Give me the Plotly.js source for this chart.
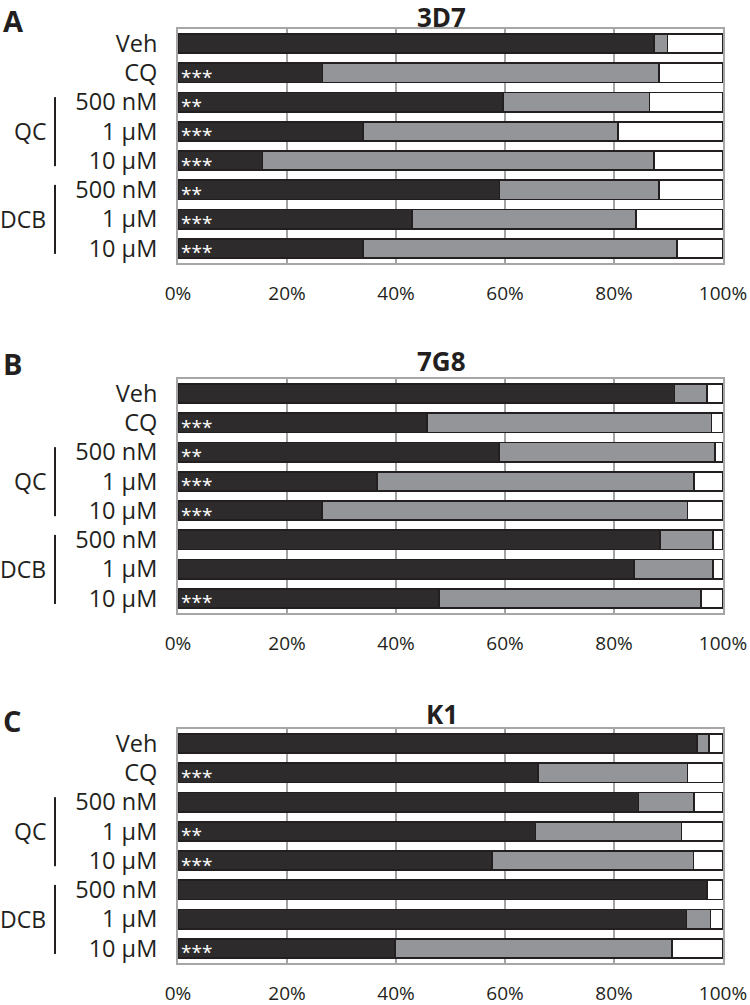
<!DOCTYPE html>
<html>
<head>
<meta charset="utf-8">
<script src="https://cdn.plot.ly/plotly-3.0.1.min.js"></script>
<style>html,body{margin:0;padding:0;background:#fff;}</style>
</head>
<body>
<div id="chart" style="width:750px;height:1005px;"></div>
<script>
// ---- data ----
const categories = ['Veh', 'CQ', '500 nM', '1 µM', '10 µM', '500 nM', '1 µM', '10 µM'];
const groups = ['QC', 'DCB'];
const panelTitles = ['3D7', '7G8', 'K1'];
const panelLetters = ['A', 'B', 'C'];
const xTicks = [0, 20, 40, 60, 80, 100];

// percentage in each segment (dark, gray); white = remainder to 100%
const dark3D7 = [87.4, 26.5, 59.6, 34.0, 15.5, 59.0, 42.9, 34.0];
const gray3D7 = [2.4, 61.8, 26.9, 46.8, 71.9, 29.3, 41.1, 57.6];
const dark7G8 = [91.1, 45.7, 58.9, 36.5, 26.4, 88.4, 83.6, 47.9];
const gray7G8 = [6.0, 52.2, 39.6, 58.2, 67.1, 9.7, 14.6, 48.0];
const darkK1 = [95.2, 66.0, 84.5, 65.6, 57.6, 97.0, 93.3, 39.8];
const grayK1 = [2.3, 27.5, 10.2, 26.8, 37.0, 0.0, 4.4, 50.8];

const sig3D7 = ['', '***', '**', '***', '***', '**', '***', '***'];
const sig7G8 = ['', '***', '**', '***', '***', '', '', '***'];
const sigK1 = ['', '***', '', '**', '***', '', '', '***'];

// ---- build ----
const rows = categories.map((_, i) => i);
const panels = [
  {dark: dark3D7, gray: gray3D7, sig: sig3D7},
  {dark: dark7G8, gray: gray7G8, sig: sig7G8},
  {dark: darkK1, gray: grayK1, sig: sigK1}
];
const COL_DARK = '#2d2b2c', COL_GRAY = '#939598', COL_LINE = '#231f20';
const FONT = 'Open Sans, sans-serif';
const domains = [[0.7495, 1], [0.3747, 0.6253], [0, 0.2505]];
const titleY = [1.052, 1.077, 1.064];
const letterY = [1.036, 1.064, 1.038];

const traces = [];
const layout = {
  width: 750, height: 1005,
  margin: {l: 178, r: 27, t: 29, b: 42},
  paper_bgcolor: '#ffffff', plot_bgcolor: '#ffffff',
  barmode: 'stack', bargap: 0.34, showlegend: false,
  font: {family: FONT, color: COL_LINE},
  annotations: [], shapes: []
};

panels.forEach((p, k) => {
  const sfx = k === 0 ? '' : String(k + 1);
  const xa = 'x' + sfx, ya = 'y' + sfx;
  const white = p.dark.map((d, i) => Math.max(0, 100 - d - p.gray[i]));
  const segs = [[p.dark, COL_DARK], [p.gray, COL_GRAY], [white, '#ffffff']];
  segs.forEach(([vals, col]) => {
    traces.push({
      type: 'bar', orientation: 'h', x: vals, y: rows,
      xaxis: xa, yaxis: ya,
      marker: {color: col, line: {color: COL_LINE, width: 1.8}},
      hoverinfo: 'skip'
    });
  });
  // significance stars, anchored at the bar base
  p.sig.forEach((s, i) => {
    if (!s) return;
    layout.annotations.push({
      text: s, xref: xa, yref: ya, x: 0, y: rows[i],
      xanchor: 'left', yanchor: 'middle', xshift: 1, yshift: -4,
      showarrow: false, font: {family: FONT, size: 19, color: '#ffffff'}
    });
  });

  layout['xaxis' + sfx] = {
    anchor: ya, domain: [0, 1], range: [0, 100], fixedrange: true,
    tickvals: xTicks, ticktext: xTicks.map(v => v + '%'),
    ticks: 'outside', ticklen: 12, tickcolor: 'rgba(0,0,0,0)',
    tickfont: {family: FONT, size: 19, color: COL_LINE},
    showgrid: true, gridcolor: '#a3a3a3', gridwidth: 1.6, zeroline: false,
    showline: true, mirror: true, linecolor: '#a6a6a6', linewidth: 2
  };
  layout['yaxis' + sfx] = {
    anchor: xa, domain: domains[k], range: [7.5, -0.5], fixedrange: true,
    tickvals: rows, ticktext: categories,
    ticks: 'outside', ticklen: 14, tickcolor: 'rgba(0,0,0,0)',
    tickfont: {family: FONT, size: 23.5, color: COL_LINE},
    showgrid: false, zeroline: false,
    showline: true, mirror: true, linecolor: '#a6a6a6', linewidth: 2
  };

  // panel title and letter
  layout.annotations.push({
    text: '<b>' + panelTitles[k] + '</b>', xref: 'paper', yref: ya + ' domain',
    x: 0.4844, y: titleY[k], xanchor: 'center', yanchor: 'middle', showarrow: false,
    font: {family: FONT, size: 26, color: COL_LINE}
  });
  layout.annotations.push({
    text: '<b>' + panelLetters[k] + '</b>', xref: 'paper', yref: ya + ' domain',
    x: -0.325, y: letterY[k], xanchor: 'left', yanchor: 'middle', showarrow: false,
    font: {family: FONT, size: 29, color: COL_LINE}
  });
  // group labels and brackets
  const groupRows = [[2, 4], [5, 7]];
  groups.forEach((g, gi) => {
    const [r0, r1] = groupRows[gi];
    layout.annotations.push({
      text: g, xref: 'paper', yref: ya, x: -0.2385, y: (r0 + r1) / 2,
      xanchor: 'right', yanchor: 'middle', showarrow: false,
      font: {family: FONT, size: 23, color: COL_LINE}
    });
    layout.shapes.push({
      type: 'line', xref: 'paper', yref: ya,
      x0: -0.2257, x1: -0.2257, y0: r0 - 0.17, y1: r1 + 0.19,
      line: {color: COL_LINE, width: 2}
    });
  });
});

Plotly.newPlot('chart', traces, layout, {displayModeBar: false, staticPlot: true});
</script>
</body>
</html>
